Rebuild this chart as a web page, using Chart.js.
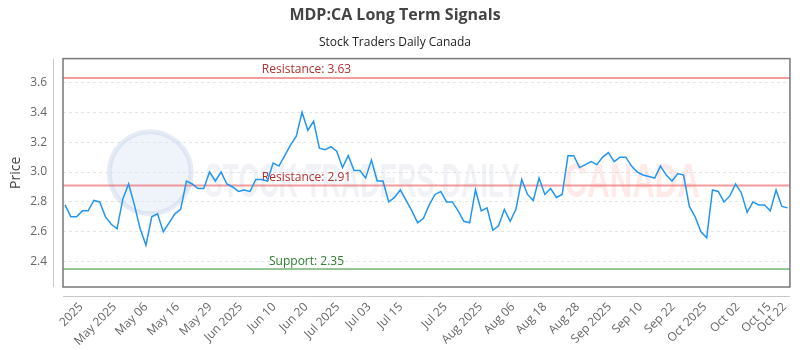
<!DOCTYPE html>
<html>
<head>
<meta charset="utf-8">
<script src="https://cdn.jsdelivr.net/npm/chart.js@4.4.1/dist/chart.umd.min.js"></script>
<style>
  body { margin: 0; background: #fff; }
  #wrap { width: 800px; height: 350px; }
</style>
</head>
<body>
<div id="wrap"><canvas id="grafico"></canvas></div>
<script>
// closing prices, one per trading day
const precos = [
  2.78, 2.70, 2.70, 2.74, 2.74, 2.81, 2.80, 2.70, 2.65, 2.62,
  2.82, 2.92, 2.78, 2.62, 2.51, 2.70, 2.72, 2.60, 2.66, 2.72,
  2.75, 2.94, 2.92, 2.89, 2.89, 3.00, 2.94, 3.00, 2.92, 2.90,
  2.87, 2.88, 2.87, 2.95, 2.95, 2.94, 3.06, 3.04, 3.11, 3.18,
  3.24, 3.40, 3.28, 3.34, 3.16, 3.15, 3.17, 3.14, 3.03, 3.11,
  3.01, 3.01, 2.96, 3.08, 2.94, 2.94, 2.80, 2.83, 2.88, 2.81,
  2.74, 2.66, 2.69, 2.78, 2.85, 2.87, 2.80, 2.80, 2.74, 2.67,
  2.66, 2.88, 2.74, 2.76, 2.61, 2.64, 2.75, 2.67, 2.75, 2.95,
  2.85, 2.81, 2.96, 2.85, 2.89, 2.83, 2.85, 3.11, 3.11, 3.03,
  3.05, 3.07, 3.05, 3.10, 3.13, 3.07, 3.10, 3.10, 3.04, 3.00,
  2.98, 2.97, 2.96, 3.04, 2.98, 2.94, 2.99, 2.98, 2.77, 2.70,
  2.60, 2.56, 2.88, 2.87, 2.80, 2.84, 2.92, 2.86, 2.73, 2.80,
  2.78, 2.78, 2.74, 2.88, 2.77, 2.76
];

// x axis labels and where they sit (in trading day units)
const rotulosX = ['2025', 'May 2025', 'May 06', 'May 16', 'May 29', 'Jun 2025', 'Jun 10', 'Jun 20',
  'Jul 2025', 'Jul 03', 'Jul 15', 'Jul 25', 'Aug 2025', 'Aug 06', 'Aug 18', 'Aug 28',
  'Sep 2025', 'Sep 10', 'Sep 22', 'Oct 2025', 'Oct 02', 'Oct 15', 'Oct 22'];
const posicoesX = [2.8, 8.6, 14.0, 19.5, 25.1, 30.4, 36.2, 41.7, 47.2, 52.6, 58.1, 65.8,
  71.9, 77.5, 83.0, 88.7, 94.2, 99.6, 105.2, 110.7, 116.4, 121.8, 124.5];

const ticksY = [2.4, 2.6, 2.8, 3.0, 3.2, 3.4, 3.6];

// signal levels
const niveis = [3.63, 2.91, 2.35];
const nomesNiveis = ['Resistance', 'Resistance', 'Support'];

const pontos = precos.map((p, i) => ({ x: i, y: p }));

const fonte = '"Open Sans", sans-serif';

const pluginFundo = {
  id: 'fundo',
  beforeDatasetsDraw(chart) {
    const { ctx, chartArea: a } = chart;
    const w = a.right - a.left, h = a.bottom - a.top;
    ctx.save();
    // marca d'agua
    const cx = a.left + w * 0.12, cy = a.top + h * 0.5;
    ctx.beginPath();
    ctx.arc(cx, cy, 41, 0, Math.PI * 2);
    ctx.fillStyle = 'rgba(215,225,242,0.4)';
    ctx.fill();
    ctx.lineWidth = 5;
    ctx.strokeStyle = 'rgba(200,212,232,0.45)';
    ctx.stroke();

    ctx.font = 'bold 48px "Liberation Sans", sans-serif';
    ctx.textBaseline = 'alphabetic';
    ctx.textAlign = 'left';
    const base = a.top + h * 0.605;
    let txt = 'STOCK TRADERS DAILY';
    let m = ctx.measureText(txt).width;
    ctx.save();
    ctx.translate(a.left + w * 0.195, base);
    ctx.scale((w * 0.433) / m, 1);
    ctx.fillStyle = 'rgba(205,212,225,0.3)';
    ctx.fillText(txt, 0, 0);
    ctx.restore();
    txt = 'CANADA';
    m = ctx.measureText(txt).width;
    ctx.save();
    ctx.translate(a.left + w * 0.69, base);
    ctx.scale((w * 0.186) / m, 1);
    ctx.fillStyle = 'rgba(255,175,175,0.28)';
    ctx.fillText(txt, 0, 0);
    ctx.restore();

    // linhas de suporte / resistencia
    const y = chart.scales.y;
    niveis.forEach((v, i) => {
      const py = y.getPixelForValue(v);
      const sup = nomesNiveis[i] === 'Support';
      ctx.beginPath();
      ctx.moveTo(a.left, py);
      ctx.lineTo(a.right, py);
      ctx.lineWidth = 2;
      ctx.strokeStyle = sup ? 'rgba(80,160,80,0.6)' : 'rgba(235,90,90,0.6)';
      ctx.stroke();
      ctx.font = '12px ' + fonte;
      ctx.textAlign = 'center';
      ctx.textBaseline = 'bottom';
      ctx.fillStyle = sup ? '#2e7d32' : '#b23030';
      ctx.fillText(nomesNiveis[i] + ': ' + v.toFixed(2), a.left + w * 0.335, py - 2);
    });
    ctx.restore();
  },
  afterDraw(chart) {
    const { ctx, chartArea: a } = chart;
    ctx.save();
    ctx.strokeStyle = '#777';
    ctx.lineWidth = 1.5;
    ctx.strokeRect(a.left, a.top, a.right - a.left, a.bottom - a.top);
    ctx.strokeStyle = '#c8c8c8';
    ctx.lineWidth = 1;
    ctx.beginPath();
    ctx.moveTo(a.left - 9.5, a.top);
    ctx.lineTo(a.left - 9.5, a.bottom);
    ctx.moveTo(a.left, a.bottom + 9.5);
    ctx.lineTo(a.right, a.bottom + 9.5);
    ctx.stroke();
    ctx.restore();
  }
};

Chart.defaults.font.family = fonte;
Chart.defaults.color = '#666';

new Chart(document.getElementById('grafico'), {
  type: 'line',
  data: {
    datasets: [{
      label: 'Price',
      data: pontos,
      borderColor: 'rgb(33,150,243)',
      borderWidth: 1.5,
      pointRadius: 0,
      tension: 0,
      fill: false
    }]
  },
  options: {
    responsive: true,
    maintainAspectRatio: false,
    animation: false,
    layout: { padding: { left: 0, right: 10, top: 0, bottom: 0 } },
    plugins: {
      legend: { display: false },
      tooltip: { enabled: false },
      title: {
        display: true,
        text: 'MDP:CA Long Term Signals',
        color: '#444',
        font: { size: 16, weight: 'bold' },
        padding: { top: 6, bottom: 8 }
      },
      subtitle: {
        display: true,
        text: 'Stock Traders Daily Canada',
        color: '#222',
        font: { size: 12 },
        padding: { top: 2, bottom: 9 }
      }
    },
    scales: {
      x: {
        type: 'linear',
        min: -0.35,
        max: 125.4,
        grid: { display: false },
        border: { display: false },
        ticks: {
          autoSkip: false,
          maxRotation: 45,
          minRotation: 45,
          padding: 5,
          font: { size: 12 },
          callback: (v, i) => rotulosX[i]
        },
        afterBuildTicks: s => { s.ticks = posicoesX.map(v => ({ value: v })); },
        afterFit: s => { s.height = 63; }
      },
      y: {
        min: 2.23,
        max: 3.76,
        title: { display: true, text: 'Price', color: '#444', font: { size: 14 }, padding: { top: 8, bottom: 0 } },
        grid: { color: '#e4e4e4', drawTicks: false },
        border: { display: false, dash: [3, 3] },
        ticks: { padding: 16, font: { size: 12 }, callback: v => v.toFixed(1) },
        afterBuildTicks: s => { s.ticks = ticksY.map(v => ({ value: v })); },
        afterFit: s => { s.width = 63; }
      }
    }
  },
  plugins: [pluginFundo]
});
</script>
</body>
</html>
